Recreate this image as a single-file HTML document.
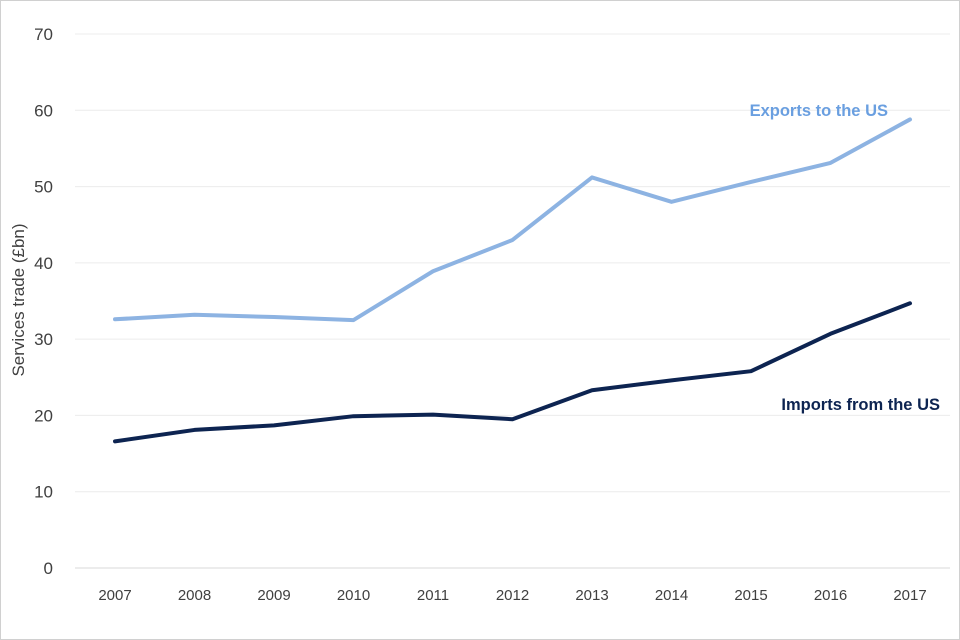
<!DOCTYPE html>
<html><head><meta charset="utf-8"><style>
body{margin:0;background:#fff;}
svg{display:block;font-family:"Liberation Sans",sans-serif;}
</style></head><body>
<svg id="chart" width="960" height="640">
<rect x="0.5" y="0.5" width="959" height="639" fill="#fff" stroke="#d0d0d0"/>
<g id="grid"></g><g id="yticks"></g><g id="xticks"></g><g id="lines"></g>
<text x="24" y="300" transform="rotate(-90 24 300)" text-anchor="middle" font-size="17" fill="#404040">Services trade (£bn)</text>
<text x="888" y="116" text-anchor="end" font-size="16.5" font-weight="bold" fill="#6a9fe0">Exports to the US</text>
<text x="940" y="410" text-anchor="end" font-size="16.5" font-weight="bold" fill="#0d2451">Imports from the US</text>
</svg>
<script>
const years=["2007","2008","2009","2010","2011","2012","2013","2014","2015","2016","2017"];
const exportsUS=[32.6,33.2,32.9,32.5,38.9,43.0,51.2,48.0,50.6,53.1,58.8];
const importsUS=[16.6,18.1,18.7,19.9,20.1,19.5,23.3,24.6,25.8,30.7,34.7];
const yTicks=[0,10,20,30,40,50,60,70];
const NS="http://www.w3.org/2000/svg";
const x=i=>115+i*79.5;
const y=v=>568-v*(534/70);
function mk(tag,attrs,parent,text){const e=document.createElementNS(NS,tag);for(const k in attrs)e.setAttribute(k,attrs[k]);if(text!==undefined)e.textContent=text;document.getElementById(parent).appendChild(e);return e;}
yTicks.forEach(t=>{
 const l=mk('line',{x1:75,x2:950,y1:y(t),y2:y(t),stroke:t===0?'#d9d9d9':'#ececec','stroke-width':1},'grid');
 
 
 const tx=mk('text',{x:53,y:y(t)+6,'text-anchor':'end','font-size':17,fill:'#404040'},'yticks',String(t));
 
 
});
years.forEach((yr,i)=>{
 const tx=mk('text',{x:x(i),y:600,'text-anchor':'middle','font-size':15,fill:'#404040'},'xticks',yr);
 
 
});
function line(data,color,name){
 const p=mk('polyline',{points:data.map((v,i)=>x(i)+','+y(v)).join(' '),fill:'none',stroke:color,'stroke-width':4,'stroke-linejoin':'round','stroke-linecap':'round'},'lines');
 
 
}
line(exportsUS,'#8db3e2','exports-line');
line(importsUS,'#0d2451','imports-line');
</script>
</body></html>
